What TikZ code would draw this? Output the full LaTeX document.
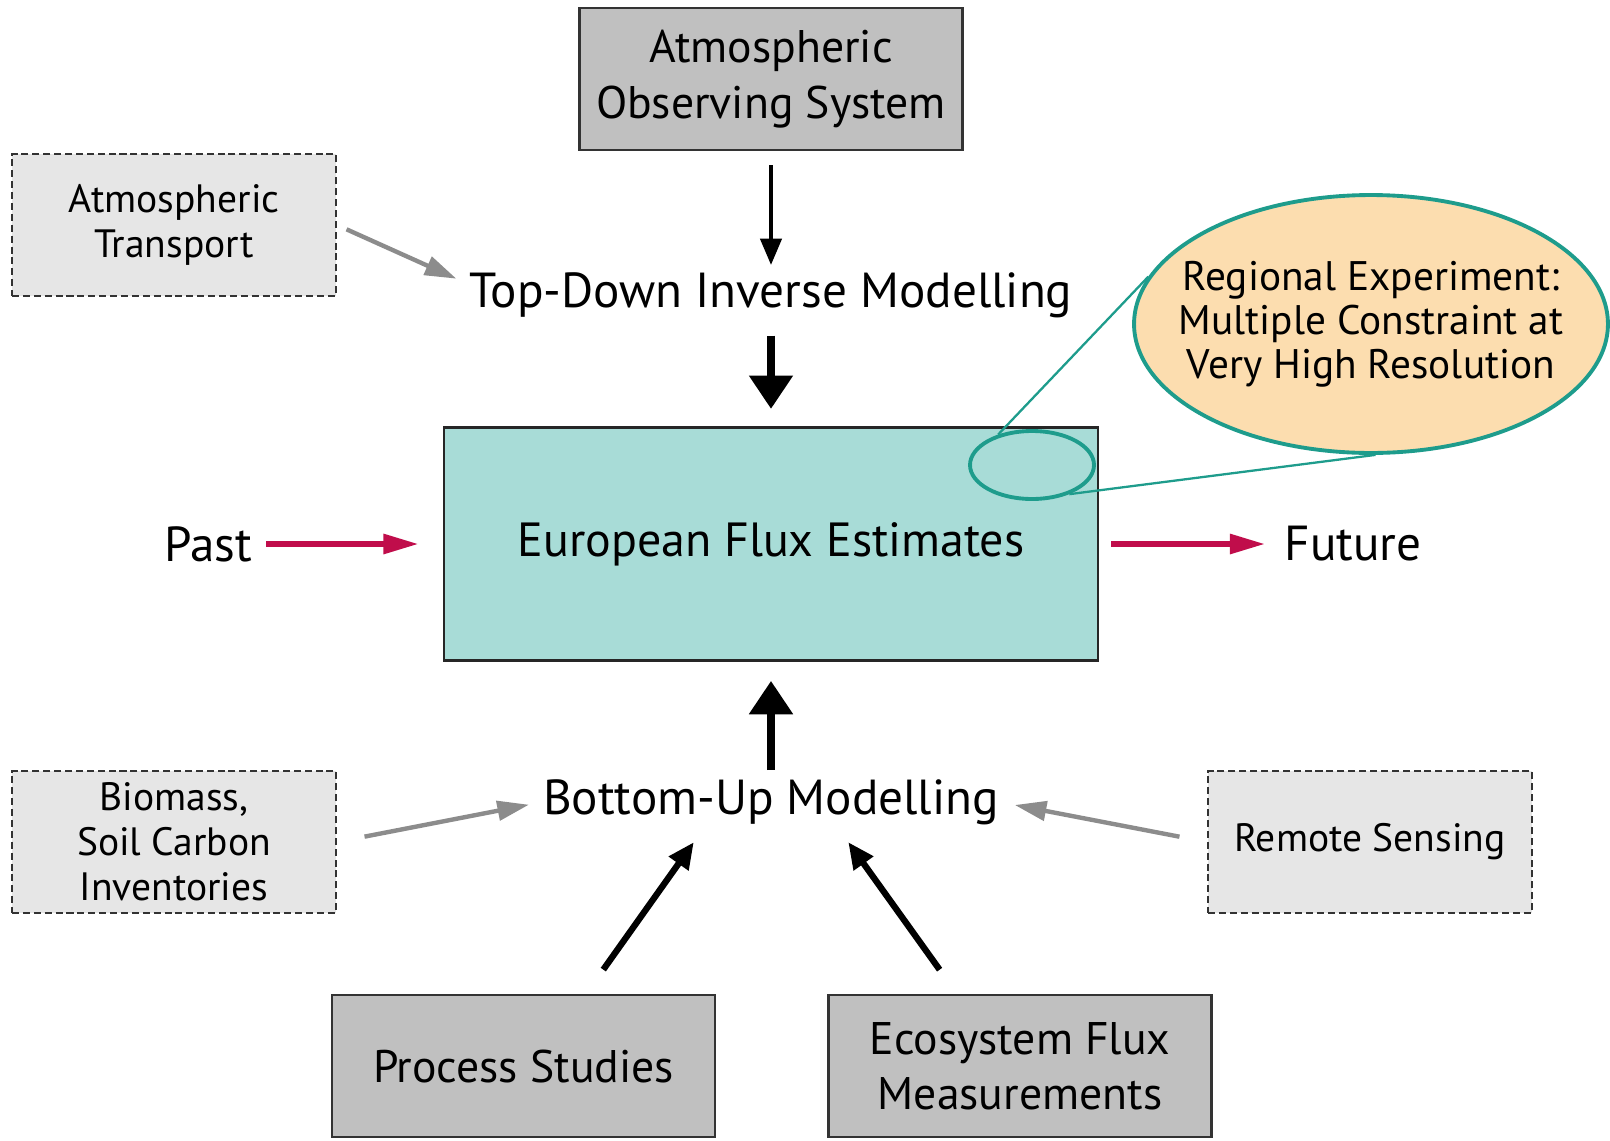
\documentclass[tikz,border=0pt]{standalone}
\usepackage{fontspec}
\setmainfont{PT Sans}
\usetikzlibrary{arrows.meta,shapes.geometric}
\definecolor{boxgray}{HTML}{C0C0C0}
\definecolor{dashgray}{HTML}{E6E6E6}
\definecolor{fluxteal}{HTML}{A8DCD7}
\definecolor{rimteal}{HTML}{1E9C8C}
\definecolor{bubbleorange}{HTML}{FCDDAF}
\definecolor{pastred}{HTML}{C00D4B}
\definecolor{arrowgray}{HTML}{8C8C8C}
\begin{document}
\begin{tikzpicture}[x=0.02cm,y=-0.02cm,
  solidbox/.style={draw=black!80,fill=boxgray,line width=1.2pt,minimum width=7.66cm,minimum height=2.84cm,align=center,font=\fontsize{26}{31.5}\selectfont},
  dashbox/.style={draw=black!80,fill=dashgray,line width=1.1pt,dash pattern=on 4pt off 2.2pt,minimum width=6.48cm,minimum height=2.84cm,align=center,font=\fontsize{22.5}{25.5}\selectfont},
  bigtext/.style={inner sep=0pt,font=\fontsize{28}{33}\selectfont},
  thinarrow/.style={line width=2.3pt,-{Triangle[length=15pt,width=12pt]}},
  fatarrow/.style={line width=4.5pt,-{Triangle[length=19pt,width=24pt]}},
  slantarrow/.style={line width=3.6pt,-{Triangle[length=15pt,width=13pt]}},
  grayarrow/.style={arrowgray,line width=2.5pt,-{Triangle[length=18pt,width=11pt]}},
  redarrow/.style={pastred,line width=3pt,-{Triangle[length=20pt,width=11pt]}}]
\useasboundingbox (0,0) rectangle (1610,1140);

\node[solidbox] (obs) at (771,79) {Atmospheric\\Observing System};
\node[dashbox] (trans) at (174,225) {Atmospheric\\Transport};
\node[bigtext] (topdown) at (771,295) {Top-Down Inverse Modelling};

\node[draw=black!85,fill=fluxteal,line width=1.2pt,minimum width=13.08cm,minimum height=4.66cm,
  font=\fontsize{27.3}{32}\selectfont] (flux) at (771,544) {\raisebox{-3pt}{European Flux Estimates}};
\node[bigtext] (past) at (208,544) {Past};
\node[bigtext] (future) at (1353,544) {Future};

\node[ellipse,draw=rimteal,line width=2.2pt,minimum width=2.48cm,minimum height=1.36cm] (spot) at (1032,465) {};
\node[ellipse,draw=rimteal,fill=bubbleorange,line width=2.2pt,minimum width=9.48cm,minimum height=5.16cm,inner sep=0pt,
  label={[align=center,font=\fontsize{23.5}{25}\selectfont]center:Regional Experiment:\\Multiple Constraint at\\Very High Resolution}] (bubble) at (1371,324) {};
\draw[rimteal,line width=1.3pt] (spot.138) -- (bubble.168);
\draw[rimteal,line width=1.3pt] (spot.-38) -- (bubble.-88);

\node[bigtext] (bottomup) at (771,802) {Bottom-Up Modelling};
\node[dashbox] (biomass) at (174,842) {Biomass,\\Soil Carbon\\Inventories};
\node[dashbox] (remote) at (1370,842) {Remote Sensing};
\node[solidbox] (process) at (523.5,1066) {Process Studies};
\node[solidbox] (eco) at (1020,1066) {Ecosystem Flux\\Measurements};

\draw[thinarrow,shorten <=8pt,shorten >=4pt] (obs.south) -- (topdown.north);
\draw[fatarrow,shorten <=10pt,shorten >=10pt] (topdown.south) -- (flux.north);
\draw[fatarrow,shorten <=5pt,shorten >=11pt] (bottomup.north) -- (flux.south);
\draw[grayarrow,shorten <=6pt,shorten >=8pt] (trans.east) -- ([yshift=6pt]topdown.west);
\draw[grayarrow,shorten <=16pt,shorten >=8pt] (biomass.east) -- (bottomup.west);
\draw[grayarrow,shorten <=16pt,shorten >=9pt] (remote.west) -- (bottomup.east);
\draw[redarrow,shorten <=8pt,shorten >=14pt] (past.east) -- (flux.west);
\draw[redarrow,shorten <=7pt,shorten >=11pt] (flux.east) -- (future.west);
\draw[slantarrow,shorten <=17pt,shorten >=12pt] ([xshift=1.25cm]process.north) -- ([xshift=-1.3cm]bottomup.south);
\draw[slantarrow,shorten <=17pt,shorten >=12pt] ([xshift=-1.26cm]eco.north) -- ([xshift=1.3cm]bottomup.south);
\end{tikzpicture}
\end{document}
